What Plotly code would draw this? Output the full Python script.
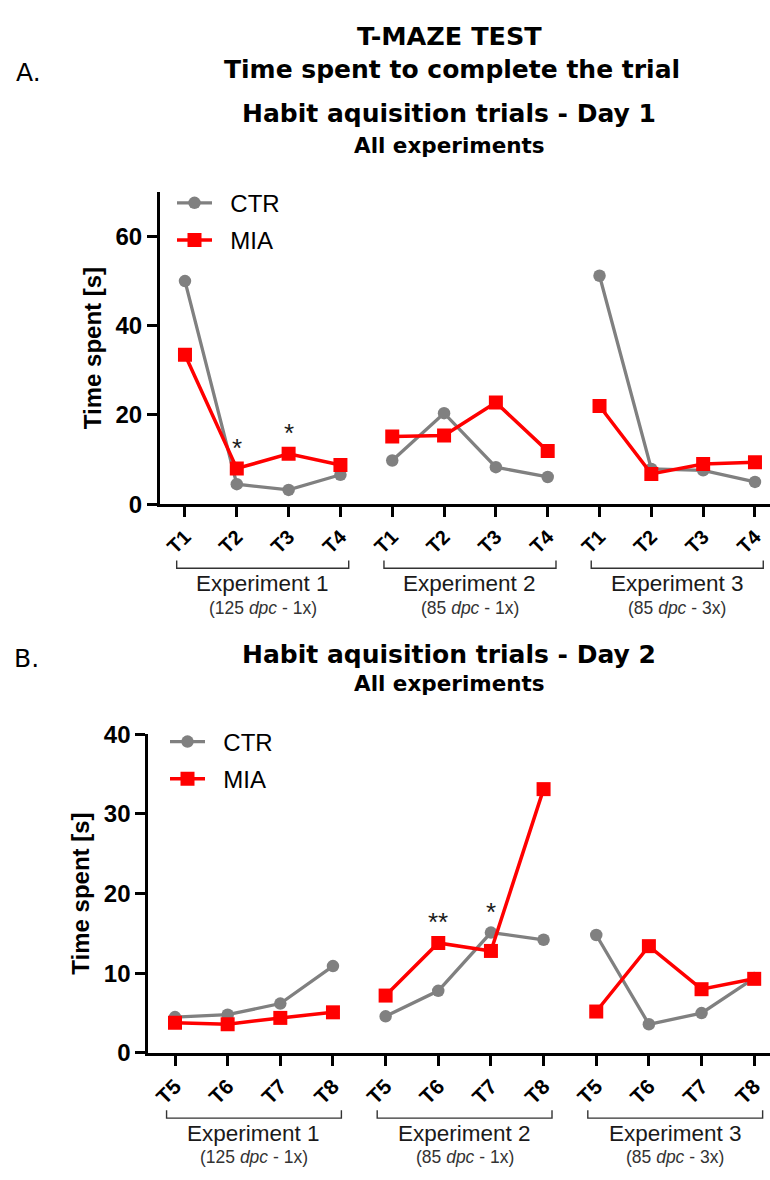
import plotly.graph_objects as go

# Trial labels for each testing day, repeated for each experiment
trials_day1 = ["T1", "T2", "T3", "T4"]
trials_day2 = ["T5", "T6", "T7", "T8"]
experiments = ["Experiment 1", "Experiment 2", "Experiment 3"]
protocols = ["(125 <i>dpc</i> - 1x)", "(85 <i>dpc</i> - 1x)", "(85 <i>dpc</i> - 3x)"]

# Mean time spent [s], Experiment 1 | Experiment 2 | Experiment 3
ctr_day1 = [50.0, 4.5, 3.2, 6.6, 9.8, 20.4, 8.3, 6.1, 51.2, 7.9, 7.6, 5.0]
mia_day1 = [33.5, 8.0, 11.3, 8.8, 15.2, 15.4, 22.8, 11.9, 22.0, 6.8, 9.0, 9.4]
ctr_day2 = [4.5, 4.8, 6.2, 10.9, 4.6, 7.8, 15.1, 14.2, 14.8, 3.6, 5.0, 9.4]
mia_day2 = [3.8, 3.6, 4.4, 5.1, 7.2, 13.8, 12.8, 33.1, 5.2, 13.4, 8.0, 9.3]

# Significance marks (position index -> label)
sig_day1 = {1: "*", 2: "*"}
sig_day2 = {5: "**", 6: "*"}

FONT = "Arial, 'Liberation Sans', sans-serif"
TITLE_FONT = "'DejaVu Sans', Arial, sans-serif"
GREY = "#808080"
RED = "#FF0000"
W, H = 770, 1180
N_TRIALS = 4
NBSP = "\u00a0"


def segmented(values):
    """Split a series into one line segment per experiment."""
    xs, ys = [], []
    for e in range(len(values) // N_TRIALS):
        for t in range(N_TRIALS):
            xs.append(e * N_TRIALS + t)
            ys.append(values[e * N_TRIALS + t])
        xs.append(None)
        ys.append(None)
    return xs, ys


def py(px):
    return 1 - px / H


fig = go.Figure()

panels = [
    dict(x="x", y="y", legend="legend", ctr=ctr_day1, mia=mia_day1, sig=sig_day1),
    dict(x="x2", y="y2", legend="legend2", ctr=ctr_day2, mia=mia_day2, sig=sig_day2),
]

for p in panels:
    cx, cy = segmented(p["ctr"])
    mx, my = segmented(p["mia"])
    fig.add_trace(go.Scatter(
        x=cx, y=cy, xaxis=p["x"], yaxis=p["y"], name=NBSP * 2 + "CTR", legend=p["legend"],
        legendgroup="ctr" + p["x"], mode="lines+markers", connectgaps=False,
        line=dict(color=GREY, width=3.3),
        marker=dict(symbol="circle", size=12.5, color=GREY),
    ))
    fig.add_trace(go.Scatter(
        x=mx, y=my, xaxis=p["x"], yaxis=p["y"], name=NBSP * 2 + "MIA", legend=p["legend"],
        legendgroup="mia" + p["x"], mode="lines+markers", connectgaps=False,
        line=dict(color=RED, width=3.5),
        marker=dict(symbol="square", size=14, color=RED),
    ))

axis_common = dict(
    showline=True, linewidth=3, linecolor="black", mirror=False,
    ticks="outside", tickwidth=3, tickcolor="black",
    showgrid=False, zeroline=False,
)
ytitle_font = dict(family=FONT, size=24, color="black", weight="bold")
ytick_font = dict(family=FONT, size=24, color="black", weight="bold")

fig.update_layout(
    # Panel A: Day 1
    xaxis=dict(
        domain=[160 / W, 1], range=[-0.482, 11.29], anchor="y",
        tickmode="array", tickvals=list(range(12)), ticktext=trials_day1 * 3,
        tickangle=-45, ticklen=10,
        tickfont=dict(family=FONT, size=20, color="black", weight="bold"),
        **axis_common,
    ),
    yaxis=dict(
        domain=[py(501.7), py(182)], range=[0, 70], anchor="x",
        tickmode="array", tickvals=[0, 20, 40, 60], ticklen=10,
        tickfont=ytick_font,
        title=dict(text="Time spent [s]", standoff=8, font=ytitle_font),
        **axis_common,
    ),
    # Panel B: Day 2
    xaxis2=dict(
        domain=[148.3 / W, 1], range=[-0.507, 11.30], anchor="y2",
        tickmode="array", tickvals=list(range(12)), ticktext=trials_day2 * 3,
        tickangle=-45, ticklen=10,
        tickfont=dict(family=FONT, size=21, color="black", weight="bold"),
        **axis_common,
    ),
    yaxis2=dict(
        domain=[py(1063.3), py(737)], range=[0, 40], anchor="x2",
        tickmode="array", tickvals=[0, 10, 20, 30, 40], ticklen=10,
        tickfont=ytick_font,
        title=dict(text="Time spent [s]", standoff=8, font=ytitle_font),
        **axis_common,
    ),
)

legend_style = dict(
    xanchor="left", yanchor="top", bgcolor="rgba(0,0,0,0)", borderwidth=0,
    font=dict(family=FONT, size=24, color="black"), tracegroupgap=3, itemwidth=35,
    itemclick=False, itemdoubleclick=False,
)
fig.update_layout(
    legend=dict(x=172 / W, y=py(170.6), **legend_style),
    legend2=dict(x=165 / W, y=py(722), **legend_style),
)

annotations = []
shapes = []


def text(x, y, s, size, family=FONT, bold=False, xref="paper", yref="paper",
         color="black", xanchor="center"):
    annotations.append(dict(
        x=x, y=y, xref=xref, yref=yref, text=s, showarrow=False,
        xanchor=xanchor, yanchor="middle",
        font=dict(family=family, size=size, color=color, weight="bold" if bold else "normal"),
    ))


# Titles
text(449 / W, py(22.5), "T-MAZE TEST", 25.5, family=TITLE_FONT, bold=True)
text(452 / W, py(56.5), "Time spent to complete the trial", 25, family=TITLE_FONT, bold=True)
text(449.5 / W, py(101.5), "Habit aquisition trials - Day 1", 25, family=TITLE_FONT, bold=True)
text(449.5 / W, py(134.5), "All experiments", 21.5, family=TITLE_FONT, bold=True)
text(449.4 / W, py(655), "Habit aquisition trials - Day 2", 25, family=TITLE_FONT, bold=True)
text(449 / W, py(685), "All experiments", 21.5, family=TITLE_FONT, bold=True)
text(14 / W, py(60), "A.", 25, family=TITLE_FONT, xanchor="left")
text(12 / W, py(660), "B.", 25, family=TITLE_FONT, xanchor="left")

# Experiment brackets and labels under each panel
groups = [
    dict(xref="x", bracket=567.3, label=582.5, sub=608),
    dict(xref="x2", bracket=1130, label=1146, sub=1170),
]
for g in groups:
    for e, (name, prot) in enumerate(zip(experiments, protocols)):
        x0 = e * N_TRIALS - 0.16
        x1 = e * N_TRIALS + N_TRIALS - 1 + 0.16
        yb = py(g["bracket"])
        yt = py(g["bracket"] - 8)
        shapes.append(dict(
            type="path", xref=g["xref"], yref="paper",
            path=f"M {x0},{yt} L {x0},{yb} L {x1},{yb} L {x1},{yt}",
            line=dict(color="#333333", width=1.4),
        ))
        xc = e * N_TRIALS + (N_TRIALS - 1) / 2
        text(xc, py(g["label"]), name, 22.5, xref=g["xref"], color="#1a1a1a")
        text(xc, py(g["sub"]), prot, 17.5, xref=g["xref"], color="#333333")

# Significance asterisks above the highest point of each marked trial
for p in panels:
    for idx, mark in p["sig"].items():
        annotations.append(dict(
            x=idx, y=max(p["ctr"][idx], p["mia"][idx]), xref=p["x"], yref=p["y"],
            text=mark, showarrow=False, xanchor="center", yanchor="bottom", yshift=4,
            font=dict(family=FONT, size=26, color="#1a1a1a"),
        ))

fig.update_layout(
    width=W, height=H, margin=dict(l=0, r=0, t=0, b=0),
    plot_bgcolor="white", paper_bgcolor="white",
    annotations=annotations, shapes=shapes, showlegend=True,
    font=dict(family=FONT, color="black"),
)

fig.write_html("out.html")
